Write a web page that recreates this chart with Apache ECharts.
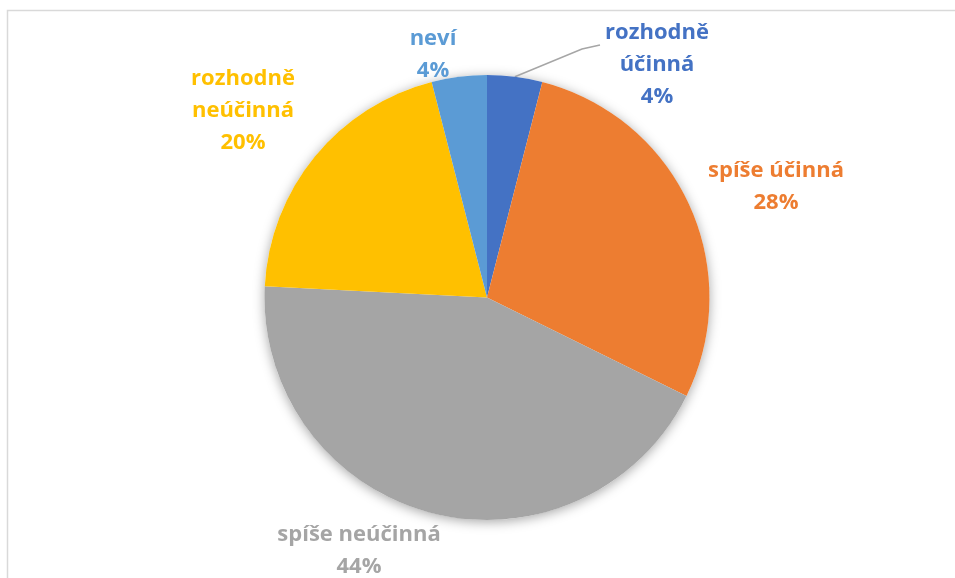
<!DOCTYPE html>
<html>
<head>
<meta charset="utf-8">
<script src="https://cdn.jsdelivr.net/npm/echarts@6/dist/echarts.min.js"></script>
<style>
  html, body { margin: 0; padding: 0; background: #fff; }
  #chart { width: 955px; height: 578px; }
</style>
</head>
<body>
<div id="chart"></div>
<script>
// kategorie (text popisku, se zalomením řádku)
const categories = ['rozhodně\núčinná', 'spíše účinná', 'spíše neúčinná', 'rozhodně\nneúčinná', 'neví']
// podíly v % odečtené z úhlů výsečí
const shares = [4.0, 28.3, 43.5, 20.2, 4.0]
const colors = ['#4472C4', '#ED7D31', '#A5A5A5', '#FFC000', '#5B9BD5']

// umístění popisků (střed textu) - jen rozvržení
const labelPos = [[657, 65], [776, 187], [359, 551], [243, 111], [433, 55]]

const chart = echarts.init(document.getElementById('chart'))

const pieData = categories.map((name, i) => ({
  name: name,
  value: shares[i],
  itemStyle: { color: colors[i] },
  label: { color: colors[i] },
  labelLine: { show: i === 0 }
}))

chart.setOption({
  animation: false,
  backgroundColor: '#fff',
  // rámeček grafu
  graphic: [{
    type: 'rect',
    shape: { x: 7.5, y: 10.5, width: 1000, height: 700 },
    style: { fill: 'none', stroke: '#D9D9D9', lineWidth: 1.5 },
    silent: true
  }],
  series: [
    // stín pod koláčem
    {
      type: 'pie',
      silent: true,
      center: [487, 297.5],
      radius: 222.5,
      z: 1,
      label: { show: false },
      labelLine: { show: false },
      itemStyle: {
        color: '#fff',
        shadowBlur: 12,
        shadowColor: 'rgba(0,0,0,0.35)',
        shadowOffsetY: 2
      },
      data: [{ value: 1 }]
    },
    {
      type: 'pie',
      center: [487, 297.5],
      radius: 222.5,
      startAngle: 90,
      clockwise: true,
      z: 2,
      data: pieData,
      label: {
        show: true,
        position: 'outside',
        fontFamily: 'Open Sans',
        fontWeight: 'bold',
        fontSize: 22,
        lineHeight: 32,
        align: 'center',
        formatter: p => p.name + '\n' + Math.round(p.percent) + '%'
      },
      labelLine: {
        show: false,
        lineStyle: { color: '#A6A6A6', width: 1.5 }
      },
      labelLayout: params => {
        const p = labelPos[params.dataIndex]
        const out = { x: p[0], y: p[1], align: 'center', verticalAlign: 'middle' }
        // vodící čára jen u první výseče
        if (params.dataIndex === 0 && params.labelLinePoints) {
          out.labelLinePoints = [params.labelLinePoints[0], [582, 49], [600, 45]]
        }
        return out
      }
    }
  ]
})
</script>
</body>
</html>
